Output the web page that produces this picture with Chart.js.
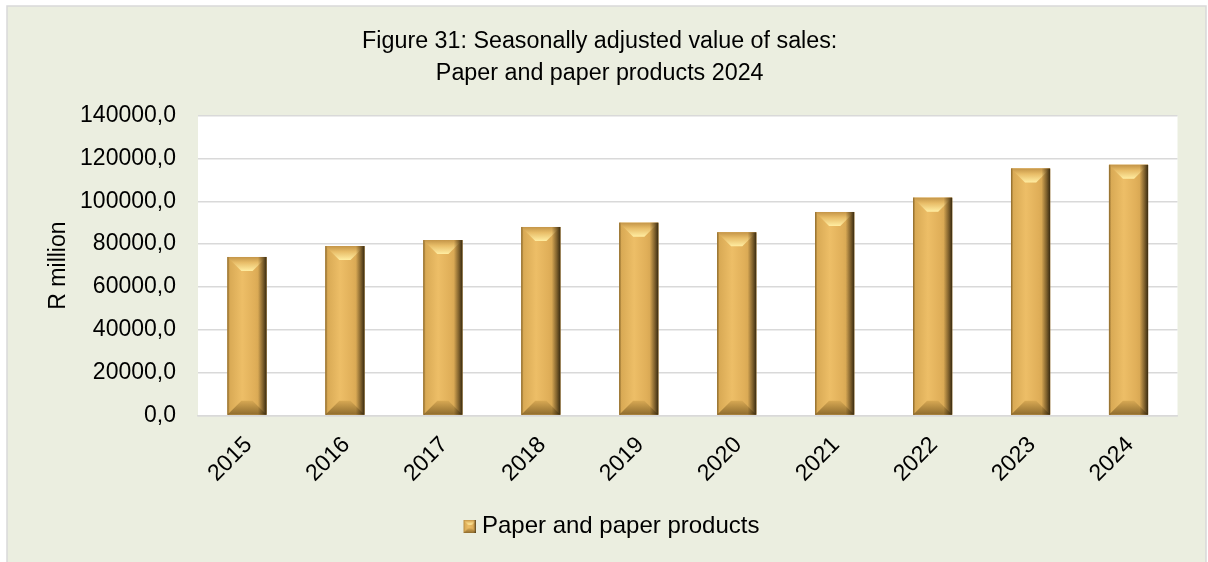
<!DOCTYPE html>
<html>
<head>
<meta charset="utf-8">
<title>Paper and paper products</title>
<script src="https://cdn.jsdelivr.net/npm/chart.js@4.4.1/dist/chart.umd.min.js"></script>
<style>
  html, body { margin: 0; padding: 0; background: #fff; }
  #wrap { width: 1208px; height: 562px; }
</style>
</head>
<body>
<div id="wrap"><canvas id="salesChart" width="1208" height="562"></canvas></div>
<script>
/* ── Data ─────────────────────────────────────────── */
const titleLines = ['Figure 31: Seasonally adjusted value of sales:', 'Paper and paper products 2024'];
const seriesName = 'Paper and paper products';
const years = ['2015', '2016', '2017', '2018', '2019', '2020', '2021', '2022', '2023', '2024'];
const salesValues = [74000, 79100, 81900, 88000, 90000, 85500, 95000, 101700, 115300, 117000];
const yMax = 140000;
const yStep = 20000;
const yAxisLabel = 'R million';

Chart.defaults.font.family = '"Liberation Sans", Arial, sans-serif';
Chart.defaults.color = '#000';

// ── Bevelled gold bar ───────────────────────────────
function paintBevelBar(ctx, L, T, R, B) {
    const w = R - L, h = B - T;
    const d = Math.min(w * 0.36, h / 2, 14);

    const face = ctx.createLinearGradient(L, 0, R, 0);
    face.addColorStop(0, '#B08538');
    face.addColorStop(0.06, '#D9AA55');
    face.addColorStop(0.38, '#EDBE67');
    face.addColorStop(0.7, '#E0AF59');
    face.addColorStop(1, '#C89A4A');
    ctx.fillStyle = face;
    ctx.fillRect(L, T, w, h);

    // top bevel, brightest where it narrows
    const cap = ctx.createLinearGradient(0, T, 0, T + d);
    cap.addColorStop(0, '#C49548');
    cap.addColorStop(0.4, '#E8BD68');
    cap.addColorStop(1, '#FFEDA2');
    ctx.fillStyle = cap;
    ctx.beginPath();
    ctx.moveTo(L, T); ctx.lineTo(R, T); ctx.lineTo(R - d, T + d); ctx.lineTo(L + d, T + d);
    ctx.closePath();
    ctx.fill();

    // bottom bevel
    const foot = ctx.createLinearGradient(0, B - d, 0, B);
    foot.addColorStop(0, '#D7A853');
    foot.addColorStop(1, '#8F6C2E');
    ctx.fillStyle = foot;
    ctx.beginPath();
    ctx.moveTo(L + d, B - d); ctx.lineTo(R - d, B - d); ctx.lineTo(R, B); ctx.lineTo(L, B);
    ctx.closePath();
    ctx.fill();

    // dark right edge over face and bevels
    const shade = ctx.createLinearGradient(L, 0, R, 0);
    shade.addColorStop(0, 'rgba(50,35,10,0.3)');
    shade.addColorStop(0.06, 'rgba(50,35,10,0)');
    shade.addColorStop(0.78, 'rgba(40,28,8,0)');
    shade.addColorStop(0.9, 'rgba(40,28,8,0.45)');
    shade.addColorStop(1, 'rgba(30,22,6,0.85)');
    ctx.fillStyle = shade;
    ctx.fillRect(L, T, w, h);
}

// legend swatch: small bevel square sitting at the right of a wider canvas
const legendMarker = document.createElement('canvas');
legendMarker.width = 43;
legendMarker.height = 13;
paintBevelBar(legendMarker.getContext('2d'), 30, 0, 43, 13);

// ── Plugins ─────────────────────────────────────────
const frameBg = {
    id: 'frameBg',
    beforeDraw(chart) {
        const { ctx, chartArea: a, width, height } = chart;
        ctx.save();
        ctx.fillStyle = '#fff';
        ctx.fillRect(0, 0, width, height);
        ctx.fillStyle = '#EBEEE0';
        ctx.fillRect(7, 6, 1199, height);
        ctx.strokeStyle = '#D9D9D9';
        ctx.lineWidth = 1.5;
        ctx.strokeRect(7, 6, 1199, height + 10);
        ctx.fillStyle = '#fff';
        ctx.fillRect(a.left, a.top, a.right - a.left, a.bottom - a.top);
        ctx.restore();
    }
};

const bevelBars = {
    id: 'bevelBars',
    afterDatasetsDraw(chart) {
        const ctx = chart.ctx;
        ctx.save();
        chart.getDatasetMeta(0).data.forEach(bar => {
            const { x, y, base, width } = bar.getProps(['x', 'y', 'base', 'width'], true);
            paintBevelBar(ctx, x - width / 2, y, x + width / 2, base);
        });
        ctx.restore();
    }
};

// ── Chart ───────────────────────────────────────────
new Chart(document.getElementById('salesChart'), {
    type: 'bar',
    data: {
        labels: years,
        datasets: [{
            label: seriesName,
            data: salesValues,
            backgroundColor: '#E3B25B',
            borderWidth: 0,
            barPercentage: 0.4,
            categoryPercentage: 1.0
        }]
    },
    options: {
        responsive: false,
        animation: false,
        layout: { padding: { top: 0, left: 21.9, right: 30.5, bottom: 13.5 } },
        scales: {
            x: {
                grid: { display: false, drawTicks: false },
                border: { color: '#D9D9D9', width: 1.5 },
                ticks: {
                    font: { size: 23 }, color: '#000',
                    minRotation: 45, maxRotation: 45, autoSkip: false,
                    padding: 16, labelOffset: 1.5
                },
                afterFit(s) { s.height = 89; }
            },
            y: {
                min: 0, max: yMax,
                grid: { color: '#D9D9D9', lineWidth: 1.5, drawTicks: false },
                border: { display: false },
                ticks: {
                    stepSize: yStep, padding: 22, font: { size: 23 }, color: '#000',
                    callback: v => v.toFixed(1).replace('.', ',')
                },
                title: {
                    display: true, text: yAxisLabel, color: '#000',
                    font: { size: 23 }, padding: { top: 23.3, bottom: 0 }
                },
                afterFit(s) { s.width = 176.1; }
            }
        },
        plugins: {
            title: {
                display: true, text: titleLines, color: '#000',
                font: { size: 23.3, weight: 'normal', lineHeight: 1.36 },
                padding: { top: 26, bottom: 26.2 }
            },
            legend: {
                position: 'bottom',
                labels: {
                    color: '#000', font: { size: 24 },
                    usePointStyle: true, pointStyleWidth: 30,
                    generateLabels: () => [{
                        text: seriesName, pointStyle: legendMarker,
                        fillStyle: '#E3B25B', strokeStyle: 'transparent', lineWidth: 0,
                        hidden: false, datasetIndex: 0
                    }]
                }
            },
            tooltip: { enabled: false }
        }
    },
    plugins: [frameBg, bevelBars]
});
</script>
</body>
</html>
